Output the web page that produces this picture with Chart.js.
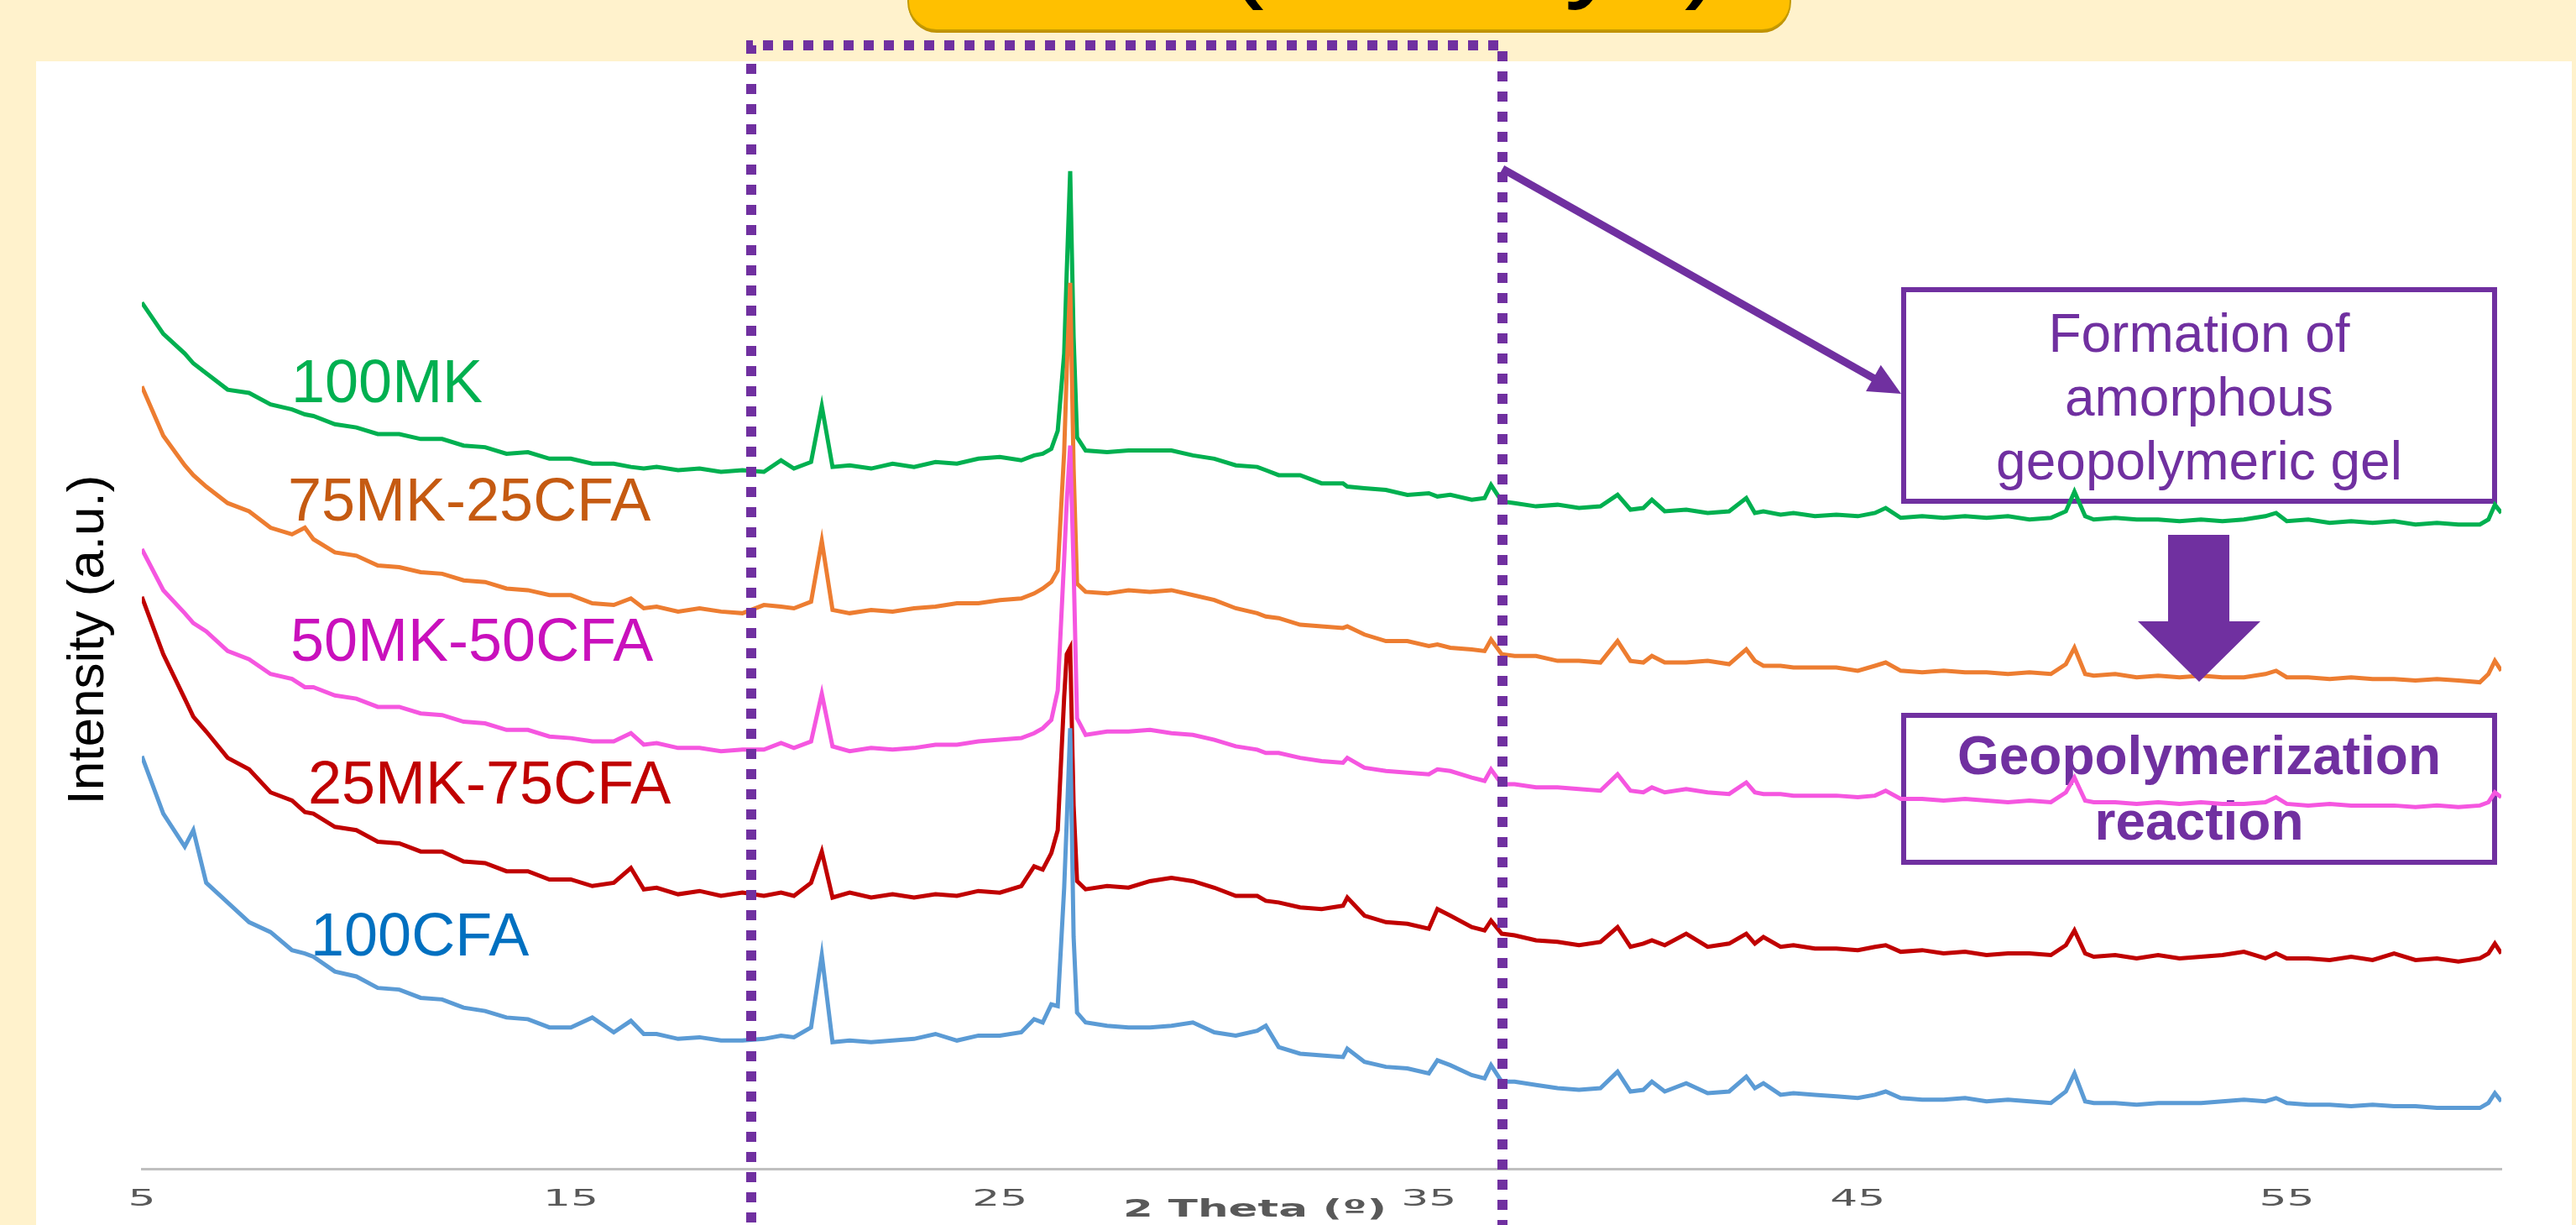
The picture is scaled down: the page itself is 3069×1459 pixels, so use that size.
<!DOCTYPE html>
<html lang="en">
<head>
<meta charset="UTF-8">
<title>XRD patterns - MK / CFA geopolymers</title>
<style>
  html, body { margin: 0; padding: 0; background: #FFF2CC; }
  canvas { display: block; }
</style>
</head>
<body>
<canvas id="xrd" width="3069" height="1459"></canvas>
<script src="https://cdn.jsdelivr.net/npm/chart.js@4.4.1/dist/chart.umd.min.js"></script>
<script>
// 2 theta (deg), shared by all five patterns
var twoTheta = [
  5, 5.5, 6, 6.2, 6.5, 7, 7.5, 8, 8.5, 8.8,
  9, 9.5, 10, 10.5, 11, 11.5, 12, 12.5, 13, 13.5,
  14, 14.5, 15, 15.5, 16, 16.4, 16.7, 17, 17.5, 18,
  18.5, 19, 19.5, 19.9, 20.2, 20.6, 20.85, 21.1, 21.5, 22,
  22.5, 23, 23.5, 24, 24.5, 25, 25.5, 25.8, 26, 26.2,
  26.35, 26.5, 26.56, 26.64, 26.72, 26.8, 27, 27.5, 28, 28.5,
  29, 29.5, 30, 30.5, 31, 31.2, 31.5, 32, 32.5, 33,
  33.1, 33.5, 34, 34.5, 35, 35.2, 35.5, 36, 36.3, 36.45,
  36.7, 37, 37.5, 38, 38.5, 39, 39.4, 39.7, 40, 40.2,
  40.5, 41, 41.5, 42, 42.4, 42.6, 42.8, 43.2, 43.5, 44,
  44.5, 45, 45.4, 45.65, 46, 46.5, 47, 47.5, 48, 48.5,
  49, 49.5, 49.85, 50.05, 50.3, 50.5, 51, 51.5, 52, 52.5,
  53, 53.5, 54, 54.5, 54.75, 55, 55.5, 56, 56.5, 57,
  57.5, 58, 58.5, 59, 59.5, 59.7, 59.85, 60
];

// intensities (a.u., stacked offsets as in the figure)
var mk100 = [
  527, 508, 496, 490, 484, 474, 472, 465, 462, 459,
  458, 453, 451, 447, 447, 444, 444, 440, 439, 435,
  436, 432, 432, 429, 429, 427, 426, 427, 425, 426,
  424, 425, 424, 431, 426, 430, 464, 427, 428, 426,
  429, 427, 430, 429, 432, 433, 431, 434, 435, 438,
  449, 496, 546, 607, 506, 445, 437, 436, 437, 437,
  437, 434, 432, 428, 427, 425, 422, 422, 417, 417,
  415, 414, 413, 410, 411, 409, 410, 407, 408, 416,
  406, 405, 403, 404, 402, 403, 410, 401, 402, 407,
  400, 401, 399, 400, 408, 399, 400, 398, 399, 397,
  398, 397, 399, 402, 396, 397, 396, 397, 396, 397,
  395, 396, 400, 412, 397, 395, 396, 395, 395, 394,
  395, 394, 395, 397, 399, 394, 395, 393, 394, 393,
  394, 392, 393, 392, 392, 395, 404, 399
];
var mk75cfa25 = [
  476, 446, 428, 422, 415, 405, 400, 390, 386, 390,
  383, 375, 373, 367, 366, 363, 362, 358, 357, 353,
  352, 349, 349, 344, 343, 347, 341, 342, 339, 341,
  339, 338, 343, 342, 341, 345, 382, 340, 338, 340,
  339, 341, 342, 344, 344, 346, 347, 350, 353, 357,
  364, 436, 486, 539, 426, 356, 351, 350, 352, 351,
  352, 349, 346, 341, 338, 336, 335, 331, 330, 329,
  330, 325, 321, 321, 318, 319, 317, 316, 315, 322,
  313, 312, 312, 309, 309, 308, 321, 309, 308, 312,
  308, 308, 309, 307, 316, 309, 306, 306, 305, 305,
  305, 303, 306, 308, 303, 302, 303, 302, 302, 301,
  302, 301, 307, 317, 301, 300, 301, 299, 300, 299,
  300, 299, 299, 301, 303, 299, 299, 298, 299, 298,
  298, 297, 298, 297, 296, 301, 309, 303
];
var mk50cfa50 = [
  377, 352, 338, 332, 327, 315, 310, 301, 298, 293,
  293, 288, 286, 281, 281, 277, 276, 272, 271, 267,
  267, 263, 262, 260, 260, 265, 258, 259, 256, 256,
  254, 255, 255, 259, 256, 260, 289, 257, 254, 256,
  255, 256, 258, 258, 260, 261, 262, 265, 268, 273,
  291, 371, 406, 440, 366, 274, 264, 266, 266, 267,
  265, 264, 261, 257, 255, 253, 253, 250, 248, 247,
  250, 244, 242, 241, 240, 243, 242, 238, 236, 243,
  234, 234, 232, 232, 231, 230, 240, 230, 229, 232,
  229, 231, 229, 228, 235, 229, 228, 228, 227, 227,
  227, 226, 227, 230, 225, 225, 224, 225, 224, 223,
  224, 223, 229, 238, 224, 223, 223, 222, 223, 222,
  223, 222, 222, 223, 226, 222, 221, 222, 221, 221,
  221, 220, 221, 220, 221, 223, 229, 226
];
var mk25cfa75 = [
  348, 313, 286, 275, 266, 250, 243, 229, 224, 217,
  216, 208, 206, 199, 198, 193, 193, 187, 186, 181,
  181, 176, 176, 172, 174, 183, 170, 171, 167, 169,
  166, 168, 166, 168, 166, 174, 193, 165, 168, 165,
  167, 165, 167, 166, 169, 168, 172, 184, 182, 192,
  206, 287, 313, 317, 221, 175, 170, 172, 171, 175,
  177, 175, 171, 166, 166, 163, 162, 159, 158, 160,
  165, 154, 150, 149, 146, 158, 154, 147, 145, 151,
  143, 142, 139, 138, 136, 138, 147, 135, 137, 139,
  136, 143, 135, 137, 143, 137, 141, 135, 136, 134,
  134, 133, 135, 136, 132, 133, 131, 132, 130, 131,
  131, 130, 136, 145, 131, 129, 130, 128, 130, 128,
  129, 130, 132, 128, 131, 128, 128, 127, 129, 127,
  131, 127, 128, 126, 128, 131, 137, 131
];
var cfa100 = [
  251, 216, 196, 206, 174, 162, 150, 144, 133, 131,
  129, 120, 117, 110, 109, 104, 103, 98, 96, 92,
  91, 86, 86, 92, 83, 90, 82, 82, 79, 80,
  78, 78, 79, 81, 80, 86, 130, 77, 78, 77,
  78, 79, 82, 78, 81, 81, 83, 91, 89, 100,
  99, 171, 211, 268, 141, 95, 89, 87, 86, 86,
  87, 89, 83, 81, 84, 87, 74, 70, 69, 68,
  73, 65, 62, 61, 58, 66, 63, 57, 55, 63,
  53, 53, 51, 49, 48, 49, 59, 47, 48, 53,
  47, 52, 46, 47, 56, 49, 52, 45, 46, 45,
  44, 43, 45, 47, 43, 42, 42, 43, 41, 42,
  41, 40, 47, 58, 41, 40, 40, 39, 40, 40,
  40, 41, 42, 41, 43, 40, 39, 39, 38, 39,
  38, 38, 37, 37, 37, 40, 46, 41
];

var seriesNames = ['100MK', '75MK-25CFA', '50MK-50CFA', '25MK-75CFA', '100CFA'];
var seriesValues = [mk100, mk75cfa25, mk50cfa50, mk25cfa75, cfa100];
var lineColors = ['#00B050', '#ED7D31', '#F556E0', '#C00000', '#5B9BD5'];
var labelColors = ['#00B050', '#C55A11', '#C910BC', '#C00000', '#0070C0'];
var tickValues = [5, 15, 25, 35, 45, 55];

var purple = '#7030A0';
var sans = '"Liberation Sans", Arial, sans-serif';

function roundRect(ctx, x, y, w, h, r) {
  ctx.beginPath();
  ctx.moveTo(x + r, y);
  ctx.lineTo(x + w - r, y);
  ctx.arcTo(x + w, y, x + w, y + r, r);
  ctx.lineTo(x + w, y + h - r);
  ctx.arcTo(x + w, y + h, x + w - r, y + h, r);
  ctx.lineTo(x + r, y + h);
  ctx.arcTo(x, y + h, x, y + h - r, r);
  ctx.lineTo(x, y + r);
  ctx.arcTo(x, y, x + r, y, r);
  ctx.closePath();
}

var decorations = {
  id: 'decorations',
  beforeDraw: function (chart) {
    var ctx = chart.ctx;
    ctx.save();
    ctx.fillStyle = '#FFF2CC';
    ctx.fillRect(0, 0, chart.width, chart.height);
    ctx.fillStyle = '#FFFFFF';
    ctx.fillRect(43, 73, 3021, 1386);

    // title banner (cut by the top edge)
    roundRect(ctx, 1082, -60, 1051, 99, 34);
    ctx.fillStyle = '#BF9000';
    ctx.fill();
    roundRect(ctx, 1082, -60, 1051, 96, 34);
    ctx.fillStyle = '#FFC000';
    ctx.fill();
    ctx.strokeStyle = '#C49A00';
    ctx.lineWidth = 2;
    ctx.stroke();
    ctx.font = '143px ' + sans;
    ctx.fillStyle = '#000000';
    ctx.textAlign = 'left';
    ctx.textBaseline = 'alphabetic';
    var pre = ctx.measureText('XRD ').width;
    var par = ctx.measureText('(').width;
    ctx.fillText('XRD (28 days)', 1482 - pre - par / 2, -18);
    ctx.restore();
  },
  beforeDatasetsDraw: function (chart) {
    var ctx = chart.ctx;
    ctx.save();
    ctx.strokeStyle = purple;
    ctx.lineWidth = 6;
    ctx.strokeRect(2268, 345, 704, 252);
    ctx.strokeRect(2268, 852, 704, 175);

    ctx.fillStyle = purple;
    ctx.textAlign = 'center';
    ctx.textBaseline = 'alphabetic';
    ctx.font = '64px ' + sans;
    ctx.fillText('Formation of', 2620, 419);
    ctx.fillText('amorphous', 2620, 495);
    ctx.fillText('geopolymeric gel', 2620, 571);
    ctx.font = 'bold 64px ' + sans;
    ctx.fillText('Geopolymerization', 2620, 922);
    ctx.fillText('reaction', 2620, 1000);
    ctx.restore();
  },
  afterDatasetsDraw: function (chart) {
    var ctx = chart.ctx;
    ctx.save();
    // dotted frame around 20-36 deg
    ctx.strokeStyle = purple;
    ctx.lineWidth = 12;
    ctx.setLineDash([12, 12]);
    ctx.beginPath();
    ctx.moveTo(895, 1480);
    ctx.lineTo(895, 54);
    ctx.lineTo(1790, 54);
    ctx.lineTo(1790, 1480);
    ctx.stroke();
    ctx.setLineDash([]);

    // diagonal arrow to the first box
    var x0 = 1790, y0 = 201, x1 = 2265, y1 = 469;
    var len = Math.hypot(x1 - x0, y1 - y0);
    var ux = (x1 - x0) / len, uy = (y1 - y0) / len;
    ctx.lineWidth = 9;
    ctx.beginPath();
    ctx.moveTo(x0, y0);
    ctx.lineTo(x1 - 30 * ux, y1 - 30 * uy);
    ctx.stroke();
    var bx = x1 - 38 * ux, by = y1 - 38 * uy;
    ctx.fillStyle = purple;
    ctx.beginPath();
    ctx.moveTo(x1, y1);
    ctx.lineTo(bx - 18 * uy, by + 18 * ux);
    ctx.lineTo(bx + 18 * uy, by - 18 * ux);
    ctx.closePath();
    ctx.fill();

    // block arrow down
    ctx.beginPath();
    ctx.moveTo(2583, 637);
    ctx.lineTo(2656, 637);
    ctx.lineTo(2656, 740);
    ctx.lineTo(2693, 740);
    ctx.lineTo(2620, 812);
    ctx.lineTo(2547, 740);
    ctx.lineTo(2583, 740);
    ctx.closePath();
    ctx.fill();

    // sample names
    var names = [[347, 479], [343, 620], [346, 787], [367, 957], [370, 1138]];
    ctx.font = '72px ' + sans;
    ctx.textAlign = 'left';
    ctx.textBaseline = 'alphabetic';
    seriesNames.forEach(function (n, i) {
      ctx.fillStyle = labelColors[i];
      ctx.fillText(n, names[i][0], names[i][1]);
    });
    ctx.restore();
  },
  afterDraw: function (chart) {
    var ctx = chart.ctx;
    var sx = chart.scales.x;
    ctx.save();
    // tick labels, stretched like the pasted chart
    ctx.font = '26px "Liberation Sans Narrow", "DejaVu Sans Condensed", ' + sans;
    ctx.fillStyle = '#595959';
    ctx.textAlign = 'center';
    ctx.textBaseline = 'alphabetic';
    var k = 66 / ctx.measureText('45').width;
    sx.ticks.forEach(function (t) {
      ctx.save();
      ctx.translate(sx.getPixelForValue(t.value), 1436);
      ctx.scale(k, 1);
      ctx.fillText(String(t.value), 0, 0);
      ctx.restore();
    });
    // axis title
    ctx.font = 'bold 28px "Liberation Sans Narrow", "DejaVu Sans Condensed", ' + sans;
    var kt = 314 / ctx.measureText('2 Theta (\u00BA)').width;
    ctx.save();
    ctx.translate(1495, 1449);
    ctx.scale(kt, 1);
    ctx.fillText('2 Theta (\u00BA)', 0, 0);
    ctx.restore();
    // y title
    ctx.font = '62px ' + sans;
    ctx.fillStyle = '#000000';
    ctx.translate(123, 762);
    ctx.rotate(-Math.PI / 2);
    ctx.fillText('Intensity (a.u.)', 0, 0);
    ctx.restore();
  }
};

var drawOrder = [4, 3, 2, 1, 0];
var datasets = seriesNames.map(function (name, i) {
  var vals = seriesValues[i];
  return {
    label: name,
    data: twoTheta.map(function (t, j) { return { x: t, y: vals[j] }; }),
    borderColor: lineColors[i],
    borderWidth: 5,
    pointRadius: 0,
    tension: 0,
    fill: false,
    order: drawOrder[i]
  };
});

new Chart(document.getElementById('xrd'), {
  type: 'line',
  data: { datasets: datasets },
  options: {
    responsive: false,
    animation: false,
    devicePixelRatio: 1,
    layout: { padding: { left: 169, right: 89, top: 100, bottom: 0 } },
    plugins: {
      legend: { display: false },
      tooltip: { enabled: false },
      title: { display: false }
    },
    scales: {
      x: {
        type: 'linear',
        min: 5,
        max: 60,
        afterBuildTicks: function (s) {
          s.ticks = tickValues.map(function (v) { return { value: v }; });
        },
        afterFit: function (s) { s.height = 67; },
        grid: { display: false },
        border: { display: true, color: '#BFBFBF', width: 3 },
        ticks: { display: false }
      },
      y: { display: false, min: 0, max: 660 }
    }
  },
  plugins: [decorations]
});
</script>
</body>
</html>
